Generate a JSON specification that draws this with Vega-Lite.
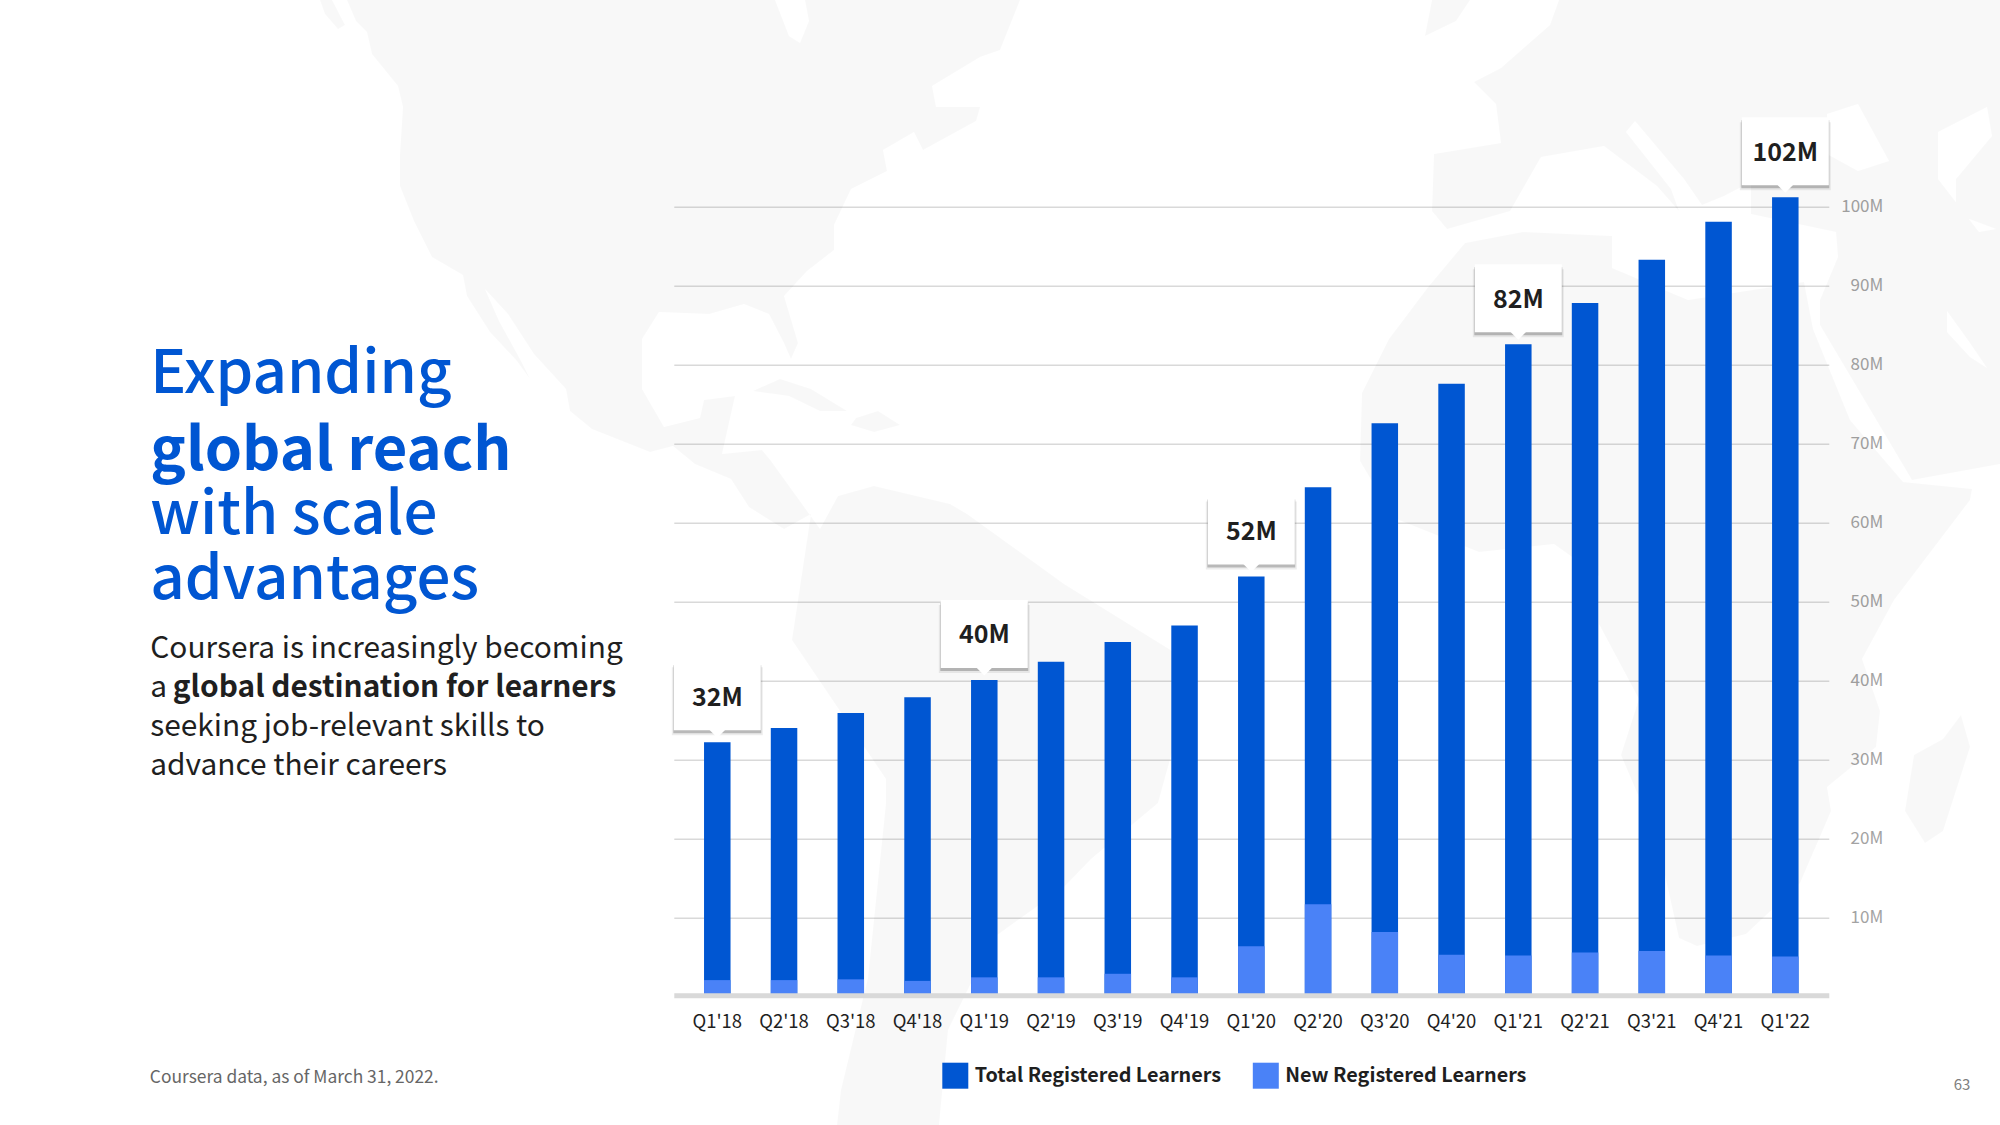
{
"$schema":"https://vega.github.io/schema/vega-lite/v6.json",
"autosize":{"type":"none"},
"background":"#ffffff",
"padding":{"left":673.8,"top":206.7,"right":171.2,"bottom":128.3},
"width":1155,"height":790,
"config":{"view":{"stroke":null},"font":"Noto Sans CJK SC"},
"datasets":{
"learners":[
{"quarter":"Q1'18","series":"Total Registered Learners","value":32.2},{"quarter":"Q2'18","series":"Total Registered Learners","value":34.0},{"quarter":"Q3'18","series":"Total Registered Learners","value":35.9},{"quarter":"Q4'18","series":"Total Registered Learners","value":37.9},{"quarter":"Q1'19","series":"Total Registered Learners","value":40.1},{"quarter":"Q2'19","series":"Total Registered Learners","value":42.4},{"quarter":"Q3'19","series":"Total Registered Learners","value":44.9},{"quarter":"Q4'19","series":"Total Registered Learners","value":47.0},{"quarter":"Q1'20","series":"Total Registered Learners","value":53.2},{"quarter":"Q2'20","series":"Total Registered Learners","value":64.5},{"quarter":"Q3'20","series":"Total Registered Learners","value":72.6},{"quarter":"Q4'20","series":"Total Registered Learners","value":77.6},{"quarter":"Q1'21","series":"Total Registered Learners","value":82.6},{"quarter":"Q2'21","series":"Total Registered Learners","value":87.8},{"quarter":"Q3'21","series":"Total Registered Learners","value":93.3},{"quarter":"Q4'21","series":"Total Registered Learners","value":98.1},{"quarter":"Q1'22","series":"Total Registered Learners","value":101.2},
{"quarter":"Q1'18","series":"New Registered Learners","value":2.1},{"quarter":"Q2'18","series":"New Registered Learners","value":2.1},{"quarter":"Q3'18","series":"New Registered Learners","value":2.2},{"quarter":"Q4'18","series":"New Registered Learners","value":2.0},{"quarter":"Q1'19","series":"New Registered Learners","value":2.45},{"quarter":"Q2'19","series":"New Registered Learners","value":2.45},{"quarter":"Q3'19","series":"New Registered Learners","value":2.9},{"quarter":"Q4'19","series":"New Registered Learners","value":2.45},{"quarter":"Q1'20","series":"New Registered Learners","value":6.4},{"quarter":"Q2'20","series":"New Registered Learners","value":11.7},{"quarter":"Q3'20","series":"New Registered Learners","value":8.2},{"quarter":"Q4'20","series":"New Registered Learners","value":5.3},{"quarter":"Q1'21","series":"New Registered Learners","value":5.2},{"quarter":"Q2'21","series":"New Registered Learners","value":5.6},{"quarter":"Q3'21","series":"New Registered Learners","value":5.8},{"quarter":"Q4'21","series":"New Registered Learners","value":5.2},{"quarter":"Q1'22","series":"New Registered Learners","value":5.1}
],
"callouts":[
{"quarter":"Q1'18","total":32.2,"label":"32M"},{"quarter":"Q1'19","total":40.1,"label":"40M"},{"quarter":"Q1'20","total":53.2,"label":"52M"},{"quarter":"Q1'21","total":82.6,"label":"82M"},{"quarter":"Q1'22","total":101.2,"label":"102M"}
],
"map":[
{"type":"Feature","properties":{"name":"Americas"},"geometry":{"type":"Polygon","coordinates":[[[347,0],[356,21],[367,32],[372,54],[398,86],[403,107],[400,154],[400,186],[414,221],[432,257],[463,275],[467,296],[490,332],[517,361],[530,379],[521,361],[499,321],[485,289],[508,314],[534,354],[566,389],[570,411],[592,429],[650,452],[673,446],[695,464],[731,479],[749,507],[784,529],[811,514],[792,640],[886,779],[886,803],[868,978],[841,1090],[837,1125],[939,1125],[948,1030],[993,938],[1064,887],[1091,859],[1158,803],[1180,723],[1198,667],[1064,584],[967,514],[950,504],[874,486],[838,496],[820,529],[771,461],[762,450],[722,454],[735,396],[704,400],[700,418],[664,427],[642,389],[642,339],[659,312],[709,314],[744,304],[769,314],[784,343],[791,359],[798,343],[784,296],[807,271],[834,250],[834,225],[851,189],[887,171],[883,150],[914,132],[923,150],[976,121],[980,107],[936,107],[932,86],[980,57],[1000,50],[1020,0],[805,0],[809,21],[800,43],[789,36],[775,0],[347,0]]]}},
{"type":"Feature","properties":{"name":"Alaska"},"geometry":{"type":"Polygon","coordinates":[[[320,0],[325,14],[338,29],[345,25],[332,0],[320,0]]]}},
{"type":"Feature","properties":{"name":"Cuba"},"geometry":{"type":"Polygon","coordinates":[[[753,391],[780,379],[811,389],[847,411],[820,411],[789,396],[753,391]]]}},
{"type":"Feature","properties":{"name":"Hispaniola"},"geometry":{"type":"Polygon","coordinates":[[[851,425],[856,418],[878,411],[900,425],[874,432],[851,425]]]}},
{"type":"Feature","properties":{"name":"Britain"},"geometry":{"type":"Polygon","coordinates":[[[1432,0],[1425,36],[1456,21],[1470,0],[1432,0]]]}},
{"type":"Feature","properties":{"name":"Africa"},"geometry":{"type":"Polygon","coordinates":[[[1804,282],[1688,300],[1612,268],[1612,236],[1523,232],[1465,243],[1429,286],[1389,339],[1362,393],[1360,461],[1394,518],[1479,552],[1554,544],[1599,576],[1599,624],[1639,699],[1621,755],[1657,839],[1679,938],[1697,946],[1746,934],[1800,883],[1831,811],[1827,787],[1876,747],[1880,711],[1862,659],[1894,600],[1970,500],[1972,489],[1903,482],[1850,420],[1813,329],[1804,282]]]}},
{"type":"Feature","properties":{"name":"Madagascar"},"geometry":{"type":"Polygon","coordinates":[[[1961,715],[1970,747],[1943,831],[1925,843],[1905,811],[1914,755],[1943,739],[1961,715]]]}},
{"type":"Feature","properties":{"name":"Eurasia"},"geometry":{"type":"Polygon","coordinates":[[[1559,0],[1550,25],[1501,68],[1474,82],[1496,104],[1501,143],[1434,154],[1432,211],[1447,229],[1510,211],[1541,157],[1604,146],[1657,186],[1679,211],[1671,189],[1626,132],[1635,121],[1684,179],[1702,205],[1724,196],[1751,182],[1751,214],[1836,232],[1838,257],[1820,300],[1820,325],[1912,480],[2000,464],[2000,0],[1559,0]],[[1827,114],[1858,104],[1889,161],[1858,171],[1827,154],[1827,114]],[[1938,132],[1987,107],[1992,136],[1956,179],[1956,214],[1996,229],[1979,232],[1938,179],[1938,132]],[[1947,311],[1970,343],[1987,368],[1970,357],[1947,332],[1947,311]]]}}
]
},
"layer":[
{"data":{"name":"map"},"mark":{"type":"geoshape","fill":"#000000","fillOpacity":0.028,"stroke":null,"clip":false},"projection":{"type":"identity","scale":1,"translate":[-673.8,-206.7],"clipExtent":[[-700,-300],[1400,1000]]}},
{"data":{"name":"learners"},"mark":{"type":"bar"},
"encoding":{
"x":{"field":"quarter","type":"nominal","sort":null,"scale":{"paddingInner":0.603,"paddingOuter":0.453},
"axis":{"title":null,"labelAngle":0,"ticks":false,"domain":true,"domainColor":"#d9d9d9","domainWidth":5,"offset":-1.4,"zindex":1,"labelFontSize":18.5,"labelColor":"#1f1f1f","labelPadding":17,"grid":false}},
"y":{"field":"value","type":"quantitative","stack":null,"scale":{"domain":[0,100],"nice":false},
"axis":{"title":null,"orient":"right","values":[10,20,30,40,50,60,70,80,90,100],"labelExpr":"datum.value + 'M'","domain":false,"ticks":false,"grid":true,"gridColor":"#d9d9d9","gridWidth":1.5,"labelFontSize":17,"labelColor":"#a3a3a3","labelPadding":54,"labelAlign":"right","labelOffset":0,"zindex":0}},
"color":{"field":"series","type":"nominal","sort":null,"scale":{"domain":["Total Registered Learners","New Registered Learners"],"range":["#0056d2","#4a82f7"]},
"legend":{"title":null,"orient":"none","legendX":268.5,"legendY":856,"direction":"horizontal","symbolType":"square","symbolSize":676,"symbolStrokeWidth":0,"labelFontSize":19.8,"labelFontWeight":"bold","labelColor":"#1f1f1f","labelOffset":6.5,"columnPadding":31.5,"labelLimit":400}}
}},
{"data":{"name":"callouts"},"mark":{"type":"rect","width":91,"height":68,"yOffset":-41,"fill":"#000000","opacity":0.07},"encoding":{"x":{"field":"quarter","type":"nominal","sort":null},"y":{"field":"total","type":"quantitative"}}},
{"data":{"name":"callouts"},"mark":{"type":"rect","width":88,"height":68,"yOffset":-43,"fill":"#000000","opacity":0.22},"encoding":{"x":{"field":"quarter","type":"nominal","sort":null},"y":{"field":"total","type":"quantitative"}}},
{"data":{"name":"callouts"},"mark":{"type":"rect","width":87,"height":68,"yOffset":-46,"fill":"#ffffff"},"encoding":{"x":{"field":"quarter","type":"nominal","sort":null},"y":{"field":"total","type":"quantitative"}}},
{"data":{"name":"callouts"},"mark":{"type":"point","filled":true,"fill":"#ffffff","opacity":1,"size":256,"shape":"M-1,0L1,0L0,1Z","yOffset":-12.5},"encoding":{"x":{"field":"quarter","type":"nominal","sort":null},"y":{"field":"total","type":"quantitative"}}},
{"data":{"name":"callouts"},"mark":{"type":"text","fontSize":25,"fontWeight":"bold","color":"#1f1f1f","align":"center","baseline":"alphabetic","yOffset":-36.5},"encoding":{"x":{"field":"quarter","type":"nominal","sort":null},"y":{"field":"total","type":"quantitative"},"text":{"field":"label"}}},
{"data":{"values":[{"line":"Expanding"}]},"mark":{"type":"text","align":"left","baseline":"alphabetic","fontSize":60,"color":"#0056d2","fontWeight":500},"encoding":{"text":{"field":"line"},"x":{"value":-523.5},"y":{"value":186}}},
{"data":{"values":[{"line":"global reach"}]},"mark":{"type":"text","align":"left","baseline":"alphabetic","fontSize":59.7,"color":"#0056d2","fontWeight":"bold"},"encoding":{"text":{"field":"line"},"x":{"value":-523.5},"y":{"value":263}}},
{"data":{"values":[{"line":"with scale"}]},"mark":{"type":"text","align":"left","baseline":"alphabetic","fontSize":60,"color":"#0056d2","fontWeight":500},"encoding":{"text":{"field":"line"},"x":{"value":-523.5},"y":{"value":327}}},
{"data":{"values":[{"line":"advantages"}]},"mark":{"type":"text","align":"left","baseline":"alphabetic","fontSize":60,"color":"#0056d2","fontWeight":500},"encoding":{"text":{"field":"line"},"x":{"value":-523.5},"y":{"value":392}}},
{"data":{"values":[{"line":"Coursera is increasingly becoming"}]},"mark":{"type":"text","align":"left","baseline":"alphabetic","fontSize":29.85,"color":"#1f1f1f"},"encoding":{"text":{"field":"line"},"x":{"value":-523.5},"y":{"value":451}}},
{"data":{"values":[{"line":"a"}]},"mark":{"type":"text","align":"left","baseline":"alphabetic","fontSize":29.85,"color":"#1f1f1f"},"encoding":{"text":{"field":"line"},"x":{"value":-523.5},"y":{"value":490}}},
{"data":{"values":[{"line":"global destination for learners"}]},"mark":{"type":"text","align":"left","baseline":"alphabetic","fontSize":29.85,"fontWeight":"bold","color":"#1f1f1f"},"encoding":{"text":{"field":"line"},"x":{"value":-501},"y":{"value":490}}},
{"data":{"values":[{"line":"seeking job-relevant skills to"}]},"mark":{"type":"text","align":"left","baseline":"alphabetic","fontSize":29.85,"color":"#1f1f1f"},"encoding":{"text":{"field":"line"},"x":{"value":-523.5},"y":{"value":529}}},
{"data":{"values":[{"line":"advance their careers"}]},"mark":{"type":"text","align":"left","baseline":"alphabetic","fontSize":29.85,"color":"#1f1f1f"},"encoding":{"text":{"field":"line"},"x":{"value":-523.5},"y":{"value":568}}},
{"data":{"values":[{"line":"Coursera data, as of March 31, 2022."}]},"mark":{"type":"text","align":"left","baseline":"alphabetic","fontSize":17.4,"color":"#666666"},"encoding":{"text":{"field":"line"},"x":{"value":-524},"y":{"value":876}}},
{"data":{"values":[{"line":"63"}]},"mark":{"type":"text","align":"right","baseline":"alphabetic","fontSize":15,"color":"#808080"},"encoding":{"text":{"field":"line"},"x":{"value":1296.5},"y":{"value":883}}}
]
}
